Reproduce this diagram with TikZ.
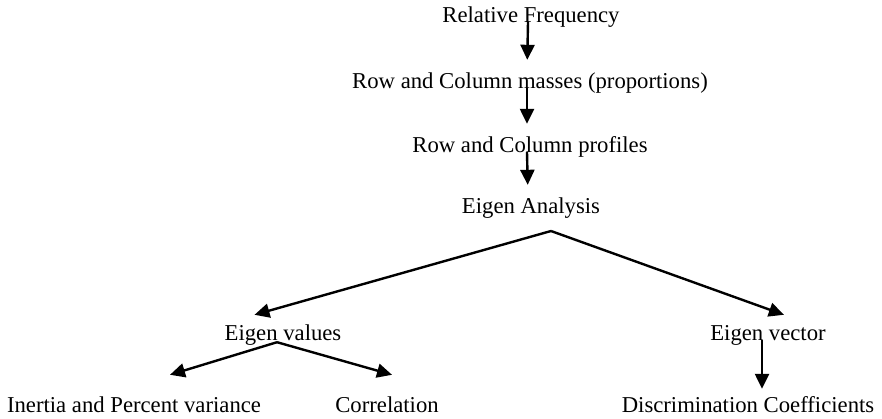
\documentclass[tikz,border=0pt]{standalone}
\usepackage{fontspec}
\setmainfont{Liberation Serif}
\usetikzlibrary{arrows.meta}

\begin{document}
\begin{tikzpicture}
  [x=1pt,y=-1pt,
   every node/.style={inner sep=0pt,text height=15pt,text depth=0pt,anchor=base,
     font=\fontsize{22.7}{27}\selectfont},
   arr/.style={line width=2.4pt,-{Triangle[length=15pt,width=14pt]},shorten >=13pt}]
  \useasboundingbox (0,0) rectangle (882,418);

  \node (rf)   at (531,22)  {Relative Frequency};
  \node (mass) at (530,88)  {Row and Column masses (proportions)};
  \node (prof) at (530,152) {Row and Column profiles};
  \node (ea)   at (531,213) {Eigen Analysis};
  \node (eval) at (283,340) {Eigen values};
  \node (evec) at (768,340) {Eigen vector};
  \node (inert) at (134,412) {Inertia and Percent variance};
  \node (corr) at (387,412) {Correlation};
  \node (disc) at (748,412) {Discrimination Coefficients};

  \coordinate (split)  at (551,231);
  \coordinate (split2) at ([xshift=-6pt,yshift=-2pt]eval.south);

  \draw[arr] ([xshift=-3pt]rf.south)   -- ([xshift=-3pt]mass.north);
  \draw[arr] ([xshift=-3pt]mass.south) -- ([xshift=-3pt]prof.north);
  \draw[arr] ([xshift=-3pt]prof.south) -- ([xshift=-3pt]ea.north);

  % split below the eigen analysis
  \draw[arr,shorten >=0pt] (split) -- ([xshift=30pt,yshift=10pt]eval.north west);
  \draw[arr,shorten >=0pt] (split) -- ([xshift=-42pt,yshift=10pt]evec.north east);

  \draw[arr,shorten >=0pt] (split2) -- ([xshift=36pt,yshift=22pt]inert.north);
  \draw[arr,shorten >=0pt] (split2) -- ([xshift=5pt,yshift=22pt]corr.north);
  \draw[arr,shorten >=8pt] ([xshift=-6pt]evec.south) -- ([xshift=14pt]disc.north);
\end{tikzpicture}
\end{document}
